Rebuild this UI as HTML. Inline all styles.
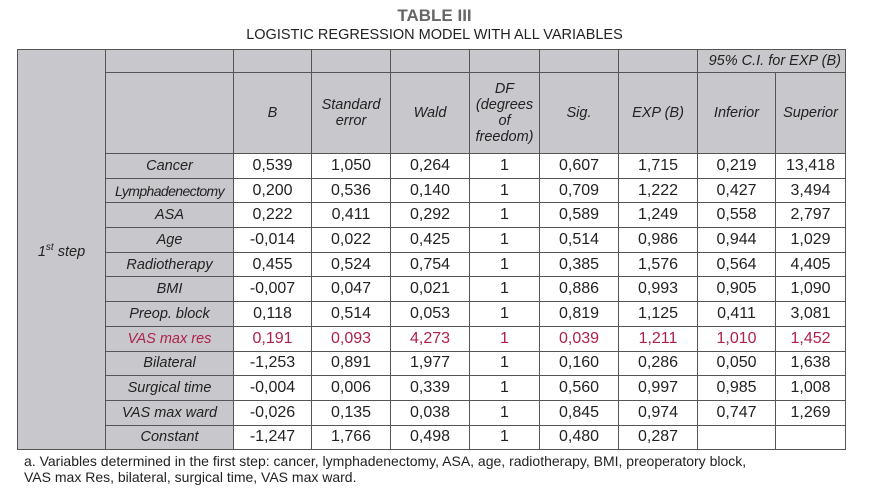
<!DOCTYPE html>
<html><head><meta charset="utf-8"><style>
body{margin:0;width:869px;height:494px;background:#fff;position:relative;overflow:hidden;font-family:"Liberation Sans",sans-serif;color:#222}
.t1{position:absolute;top:6px;left:0;width:869px;text-align:center;font-weight:bold;font-size:17px;color:#666}
.t2{position:absolute;top:27px;left:0;width:869px;text-align:center;font-size:14.5px;color:#222}
table{position:absolute;left:17px;top:49px;width:828px;border-collapse:collapse;table-layout:fixed}
td{border:1.5px solid #555;padding:0;text-align:center;font-size:16px;background:#fff;line-height:16px;white-space:nowrap;overflow:hidden}
td.g{background:#c8c8cc;font-style:italic;font-size:14.5px}
td.s{font-size:14px;letter-spacing:-0.6px}
tr.d td{height:23.7px}
.r td{color:#b0204a}
.f{position:absolute;left:24px;top:453px;font-size:14px;line-height:16px;color:#222}
</style></head><body>
<div class="t1">TABLE III</div>
<div class="t2">LOGISTIC REGRESSION MODEL WITH ALL VARIABLES</div>
<table>
<colgroup><col style="width:88px"><col style="width:128px"><col style="width:78px"><col style="width:79px"><col style="width:79px"><col style="width:70px"><col style="width:79px"><col style="width:79px"><col style="width:78px"><col style="width:70px"></colgroup>
<tr style="height:23px"><td class="g" rowspan="14">1<sup style="font-size:10px">st</sup> step</td><td class="g"></td><td class="g"></td><td class="g"></td><td class="g"></td><td class="g"></td><td class="g"></td><td class="g"></td><td class="g" colspan="2" style="text-align:right;padding-right:4px">95% C.I. for EXP (B)</td></tr>
<tr style="height:81px"><td class="g"></td><td class="g">B</td><td class="g">Standard<br>error</td><td class="g">Wald</td><td class="g">DF<br>(degrees<br>of<br>freedom)</td><td class="g">Sig.</td><td class="g">EXP (B)</td><td class="g">Inferior</td><td class="g">Superior</td></tr>
<tr class="d"><td class="g">Cancer</td><td>0,539</td><td>1,050</td><td>0,264</td><td>1</td><td>0,607</td><td>1,715</td><td>0,219</td><td>13,418</td></tr>
<tr class="d"><td class="g s">Lymphadenectomy</td><td>0,200</td><td>0,536</td><td>0,140</td><td>1</td><td>0,709</td><td>1,222</td><td>0,427</td><td>3,494</td></tr>
<tr class="d"><td class="g">ASA</td><td>0,222</td><td>0,411</td><td>0,292</td><td>1</td><td>0,589</td><td>1,249</td><td>0,558</td><td>2,797</td></tr>
<tr class="d"><td class="g">Age</td><td>-0,014</td><td>0,022</td><td>0,425</td><td>1</td><td>0,514</td><td>0,986</td><td>0,944</td><td>1,029</td></tr>
<tr class="d"><td class="g">Radiotherapy</td><td>0,455</td><td>0,524</td><td>0,754</td><td>1</td><td>0,385</td><td>1,576</td><td>0,564</td><td>4,405</td></tr>
<tr class="d"><td class="g">BMI</td><td>-0,007</td><td>0,047</td><td>0,021</td><td>1</td><td>0,886</td><td>0,993</td><td>0,905</td><td>1,090</td></tr>
<tr class="d"><td class="g">Preop. block</td><td>0,118</td><td>0,514</td><td>0,053</td><td>1</td><td>0,819</td><td>1,125</td><td>0,411</td><td>3,081</td></tr>
<tr class="d r"><td class="g">VAS max res</td><td>0,191</td><td>0,093</td><td>4,273</td><td>1</td><td>0,039</td><td>1,211</td><td>1,010</td><td>1,452</td></tr>
<tr class="d"><td class="g">Bilateral</td><td>-1,253</td><td>0,891</td><td>1,977</td><td>1</td><td>0,160</td><td>0,286</td><td>0,050</td><td>1,638</td></tr>
<tr class="d"><td class="g">Surgical time</td><td>-0,004</td><td>0,006</td><td>0,339</td><td>1</td><td>0,560</td><td>0,997</td><td>0,985</td><td>1,008</td></tr>
<tr class="d"><td class="g">VAS max ward</td><td>-0,026</td><td>0,135</td><td>0,038</td><td>1</td><td>0,845</td><td>0,974</td><td>0,747</td><td>1,269</td></tr>
<tr class="d"><td class="g">Constant</td><td>-1,247</td><td>1,766</td><td>0,498</td><td>1</td><td>0,480</td><td>0,287</td><td></td><td></td></tr>
</table>
<div class="f">a. Variables determined in the first step: cancer, lymphadenectomy, ASA, age, radiotherapy, BMI, preoperatory block,<br>VAS max Res, bilateral, surgical time, VAS max ward.</div>
</body></html>
